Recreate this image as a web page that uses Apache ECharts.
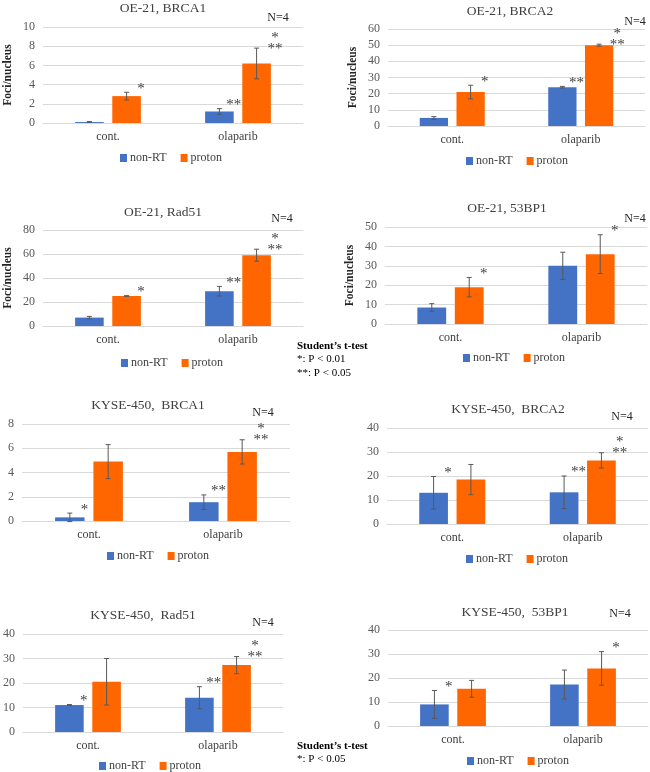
<!DOCTYPE html>
<html>
<head>
<meta charset="utf-8">
<script src="https://cdn.jsdelivr.net/npm/echarts@6/dist/echarts.min.js"></script>
<style>
  html, body { margin: 0; padding: 0; background: #fff; }
  #chart { width: 650px; height: 772px; }
</style>
</head>
<body>
<div id="chart"></div>
<script>
// 数据
var categories = ["cont.", "olaparib"];
var seriesNames = ["non-RT", "proton"];
var panelTitles = [
  "OE-21, BRCA1", "OE-21, BRCA2", "OE-21, Rad51", "OE-21, 53BP1",
  "KYSE-450,  BRCA1", "KYSE-450,  BRCA2", "KYSE-450,  Rad51", "KYSE-450,  53BP1"
];
var nonRT = [[0.1, 1.2], [5, 24], [7, 29], [8.5, 30], [0.3, 1.55], [13, 13.2], [11, 14], [9, 17.3]];
var nonRTErr = [[0.05, 0.3], [0.8, 0.5], [1, 4], [2, 7], [0.35, 0.6], [6.8, 6.8], [0.2, 4.5], [5.8, 6]];
var proton = [[2.8, 6.2], [21, 50], [25, 59], [19, 36], [4.9, 5.7], [18.5, 26.5], [20.5, 27.3], [15.5, 24]];
var protonErr = [[0.4, 1.6], [4.2, 0.6], [0.3, 5], [5, 10], [1.4, 1.0], [6.3, 3.2], [9.5, 3.5], [3.5, 7]];
var nonRTMarks = [["", "**"], ["", "**"], ["", "**"], ["", ""], ["*", "**"], ["*", "**"], ["*", "**"], ["*", ""]];
var protonMarks = [["*", "*\n**"], ["*", "*\n**"], ["*", "*\n**"], ["*", "*"], ["", "*\n**"], ["", "*\n**"], ["", "*\n**"], ["", "*"]];
var yMax = [10, 60, 80, 50, 8, 40, 40, 40];
var yStep = [2, 10, 20, 10, 2, 10, 10, 10];
var yName = ["Foci/nucleus", "Foci/nucleus", "Foci/nucleus", "Foci/nucleus", "", "", "", ""];

// 布局
var layout = [
  { left: 43, top: 27, width: 260, height: 96, title: [163, 8], n: [278, 18], legend: [120, 152] },
  { left: 388, top: 29, width: 257, height: 97, title: [510, 11], n: [635, 22], legend: [466, 155] },
  { left: 43, top: 230, width: 260, height: 96, title: [163, 212], n: [282, 219], legend: [121, 357] },
  { left: 385, top: 227, width: 262, height: 97, title: [507, 208], n: [635, 219], legend: [463, 352] },
  { left: 22, top: 424, width: 268, height: 97, title: [148, 405], n: [263, 413], legend: [107, 550] },
  { left: 387, top: 428, width: 261, height: 96, title: [508, 409], n: [622, 417], legend: [466, 553] },
  { left: 13, top: 634, width: 270, height: 98, title: [143, 615], n: [263, 623], legend: [99, 760] },
  { left: 388, top: 630, width: 260, height: 96, title: [515, 612], n: [620, 614], legend: [467, 755] }
];

var FONT = "Liberation Serif";
var BAR_W = 0.22;
var BAR_GAP = 0.3;
var colors = ["#4472C4", "#FF6600"];

function errRender(side, errs, marks) {
  return function (params, api) {
    var ci = api.value(0);
    var v = api.value(1);
    var e = errs[ci];
    var band = api.size([1, 0])[0];
    var bw = band * BAR_W;
    var off = ((bw + bw * BAR_GAP) / 2) * side;
    var top = api.coord([ci, v + e]);
    var bot = api.coord([ci, v - e]);
    var x = top[0] + off;
    var style = { stroke: "#595959", lineWidth: 1 };
    var children = [
      { type: "line", shape: { x1: x, y1: top[1], x2: x, y2: bot[1] }, style: style },
      { type: "line", shape: { x1: x - 2.5, y1: top[1], x2: x + 2.5, y2: top[1] }, style: style },
      { type: "line", shape: { x1: x - 2.5, y1: bot[1], x2: x + 2.5, y2: bot[1] }, style: style }
    ];
    var mark = marks[ci];
    if (mark) {
      // 两行星号放在误差线右侧稍低处
      var multi = mark.indexOf("\n") >= 0;
      children.push({
        type: "text",
        x: x + bw / 2 + (multi ? 4 : 0),
        y: top[1] + (multi ? 6 : 2),
        style: {
          text: mark,
          font: "15px " + FONT,
          fill: "#404040",
          align: "center",
          verticalAlign: "bottom",
          lineHeight: 11
        }
      });
    }
    return { type: "group", children: children };
  };
}

var grids = [], xAxes = [], yAxes = [], series = [], legends = [], graphics = [];

layout.forEach(function (l, p) {
  grids.push({ left: l.left, top: l.top, width: l.width, height: l.height });
  xAxes.push({
    type: "category",
    gridIndex: p,
    data: categories,
    axisTick: { show: false },
    axisLine: { lineStyle: { color: "#d9d9d9" } },
    axisLabel: { color: "#404040", fontFamily: FONT, fontSize: 12, margin: 8 }
  });
  yAxes.push({
    type: "value",
    gridIndex: p,
    min: 0,
    max: yMax[p],
    interval: yStep[p],
    name: yName[p],
    nameLocation: "middle",
    nameGap: 29,
    nameTextStyle: { color: "#262626", fontFamily: FONT, fontSize: 11.5, fontWeight: "bold" },
    axisLine: { show: false },
    axisTick: { show: false },
    splitLine: { lineStyle: { color: "#d9d9d9" } },
    axisLabel: { color: "#595959", fontFamily: FONT, fontSize: 12, margin: 8 }
  });
  series.push({
    name: seriesNames[0], type: "bar", xAxisIndex: p, yAxisIndex: p,
    data: nonRT[p], barWidth: BAR_W * 100 + "%", barGap: BAR_GAP * 100 + "%",
    itemStyle: { color: colors[0] }
  });
  series.push({
    name: seriesNames[1], type: "bar", xAxisIndex: p, yAxisIndex: p,
    data: proton[p], barWidth: BAR_W * 100 + "%", barGap: BAR_GAP * 100 + "%",
    itemStyle: { color: colors[1] }
  });
  series.push({
    type: "custom", xAxisIndex: p, yAxisIndex: p, z: 5, silent: true,
    data: nonRT[p].map(function (v, i) { return [i, v]; }),
    renderItem: errRender(-1, nonRTErr[p], nonRTMarks[p])
  });
  series.push({
    type: "custom", xAxisIndex: p, yAxisIndex: p, z: 5, silent: true,
    data: proton[p].map(function (v, i) { return [i, v]; }),
    renderItem: errRender(1, protonErr[p], protonMarks[p])
  });
  legends.push({
    data: seriesNames,
    left: l.legend[0],
    top: l.legend[1],
    padding: 0,
    itemWidth: 7,
    itemHeight: 8,
    itemGap: 14,
    icon: "rect",
    textStyle: { color: "#404040", fontFamily: FONT, fontSize: 12, padding: [0, 0, 0, -2] }
  });
  graphics.push({
    type: "text", x: l.title[0], y: l.title[1],
    style: { text: panelTitles[p], font: "13.5px " + FONT, fill: "#404040",
      align: "center", verticalAlign: "middle", textAlign: "center", textVerticalAlign: "middle" }
  });
  graphics.push({
    type: "text", x: l.n[0], y: l.n[1],
    style: { text: "N=4", font: "12px " + FONT, fill: "#262626",
      align: "center", verticalAlign: "middle", textAlign: "center", textVerticalAlign: "middle" }
  });
});

// 显著性说明
var notes = [
  { lines: ["Student\u2019s t-test", "*: P < 0.01", "**: P < 0.05"], x: 297, y: 346 },
  { lines: ["Student\u2019s t-test", "*: P < 0.05"], x: 297, y: 746 }
];
notes.forEach(function (n) {
  n.lines.forEach(function (t, i) {
    graphics.push({
      type: "text", x: n.x, y: n.y + i * 13.5,
      style: { text: t, font: (i === 0 ? "bold " : "") + "11px " + FONT, fill: "#000",
        align: "left", verticalAlign: "middle", textAlign: "left", textVerticalAlign: "middle" }
    });
  });
});

var myChart = echarts.init(document.getElementById("chart"));
myChart.setOption({
  animation: false,
  backgroundColor: "#fff",
  grid: grids,
  xAxis: xAxes,
  yAxis: yAxes,
  legend: legends,
  series: series,
  graphic: graphics
});
window.addEventListener("resize", function () {
  myChart.resize();
});
</script>
</body>
</html>
